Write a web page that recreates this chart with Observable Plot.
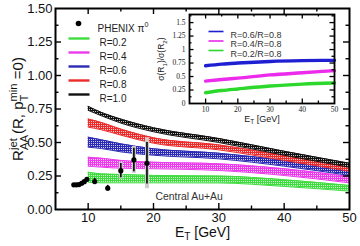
<!DOCTYPE html>
<html><head><meta charset="utf-8">
<script src="https://cdn.jsdelivr.net/npm/d3@7"></script>
<script src="https://cdn.jsdelivr.net/npm/@observablehq/plot@0.6"></script>
<style>
body{margin:0;background:#fff;}
#wrap{position:relative;width:360px;height:246px;overflow:hidden;}
#wrap svg{position:absolute;left:0;top:0;}
</style></head><body><div id="wrap"></div>
<script>
// ---------- data ----------
const etBand = [10, 12, 15, 20, 30, 40, 50];
const loR02 = [0.204, 0.199, 0.199, 0.199, 0.198, 0.172, 0.137];
const hiR02 = [0.278, 0.266, 0.261, 0.254, 0.250, 0.222, 0.179];
const loR04 = [0.323, 0.316, 0.308, 0.304, 0.291, 0.254, 0.199];
const hiR04 = [0.390, 0.383, 0.366, 0.353, 0.341, 0.304, 0.246];
const loR06 = [0.465, 0.455, 0.430, 0.405, 0.378, 0.323, 0.254];
const hiR06 = [0.540, 0.520, 0.490, 0.453, 0.420, 0.366, 0.296];
const loR08 = [0.615, 0.595, 0.555, 0.495, 0.445, 0.366, 0.285];
const hiR08 = [0.675, 0.650, 0.600, 0.535, 0.482, 0.403, 0.320];
const loR10 = [0.740, 0.700, 0.645, 0.580, 0.500, 0.405, 0.315];
const hiR10 = [0.770, 0.725, 0.675, 0.610, 0.530, 0.435, 0.345];
const seriesNames = ["R=0.2", "R=0.4", "R=0.6", "R=0.8", "R=1.0"];
const seriesColors = ["#3fdc3f", "#ec3aec", "#2b2bb5", "#ec2b2b", "#111111"];

const phenixET   = [7.8, 8.2, 8.6, 9.0, 9.4, 9.8, 11, 13, 15, 17, 19];
const phenixRAA  = [0.184, 0.184, 0.186, 0.196, 0.208, 0.225, 0.209, 0.159, 0.290, 0.370, 0.345];
const phenixStat = [0.008, 0.008, 0.008, 0.010, 0.010, 0.012, 0.024, 0.021, 0.053, 0.088, 0.155];
const phenixSyst = [0, 0, 0, 0, 0, 0, 0, 0, 0.062, 0.100, 0.190];

const insetET   = [10, 15, 20, 30, 40, 50];
const ratio06   = [0.700, 0.730, 0.750, 0.780, 0.795, 0.800];
const ratio04   = [0.415, 0.445, 0.470, 0.530, 0.570, 0.610];
const ratio02   = [0.200, 0.240, 0.270, 0.325, 0.360, 0.380];
const insetNames  = ["R=0.6/R=0.8", "R=0.4/R=0.8", "R=0.2/R=0.8"];
const insetColors = ["#1e1ed2", "#ec2aec", "#2bd82b"];

const mainYTicks = [0, 0.25, 0.5, 0.75, 1, 1.25, 1.5];
const mainXTicks = [10, 20, 30, 40, 50];
const insetYTicks = [0, 0.25, 0.5, 0.75, 1, 1.25, 1.5];
const insetXTicks = [10, 20, 30, 40, 50];

// ---------- tables ----------
const bandLo = [loR02, loR04, loR06, loR08, loR10];
const bandHi = [hiR02, hiR04, hiR06, hiR08, hiR10];
const bands = seriesNames.map((n, i) => etBand.map((x, j) => ({x, lo: bandLo[i][j], hi: bandHi[i][j]})));
const phenix = phenixET.map((x, i) => ({x, y: phenixRAA[i], stat: phenixStat[i], syst: phenixSyst[i]}));
const ratios = [ratio06, ratio04, ratio02].map(arr => insetET.map((x, j) => ({x, y: arr[j]})));

const sans = "'Liberation Sans', Arial, Helvetica, sans-serif";
const serif = "'Liberation Serif', 'Times New Roman', serif";

function inwardTicks(fw, fh, xMaj, xMin, yMaj, yMin, lenMaj, lenMin, sw) {
  const o = {stroke: "black", strokeWidth: sw};
  return [
    Plot.tickY(yMaj, {y: d => d, insetRight: fw - lenMaj, ...o}),
    Plot.tickY(yMin, {y: d => d, insetRight: fw - lenMin, ...o}),
    Plot.tickY(yMaj, {y: d => d, insetLeft: fw - lenMaj, ...o}),
    Plot.tickY(yMin, {y: d => d, insetLeft: fw - lenMin, ...o}),
    Plot.tickX(xMaj, {x: d => d, insetTop: fh - lenMaj, ...o}),
    Plot.tickX(xMin, {x: d => d, insetTop: fh - lenMin, ...o}),
    Plot.tickX(xMaj, {x: d => d, insetBottom: fh - lenMaj, ...o}),
    Plot.tickX(xMin, {x: d => d, insetBottom: fh - lenMin, ...o})
  ];
}

// ---------- main plot ----------
const W = 360, H = 246, mL = 55, mR = 11, mT = 8, mB = 37;
const fw = W - mL - mR, fh = H - mT - mB;
const marks = [];
bands.forEach((rows, i) => {
  marks.push(Plot.area(rows, {x1: "x", y1: "lo", y2: "hi", fill: `url(#pat${i})`, curve: "monotone-x"}));
  marks.push(Plot.line(rows, {x: "x", y: "lo", stroke: seriesColors[i], strokeWidth: 1, curve: "monotone-x"}));
  marks.push(Plot.line(rows, {x: "x", y: "hi", stroke: seriesColors[i], strokeWidth: 1, curve: "monotone-x"}));
});
marks.push(Plot.ruleX(phenix.filter(d => d.syst > 0), {x: "x", y1: d => d.y - d.syst, y2: d => d.y + d.syst, stroke: "#cdcdcd", strokeWidth: 4}));
marks.push(Plot.ruleX(phenix, {x: "x", y1: d => d.y - d.stat, y2: d => d.y + d.stat, stroke: "black", strokeWidth: 1.6}));
marks.push(Plot.dot(phenix, {x: "x", y: "y", r: 2.6, fill: "black"}));
marks.push(...inwardTicks(fw, fh, [10, 20, 30, 40], [15, 25, 35, 45], [0.25, 0.5, 0.75, 1, 1.25], [0.125, 0.375, 0.625, 0.875, 1.125, 1.375], 6, 3.5, 1.4));
marks.push(Plot.axisY(mainYTicks, {tickSize: 0, tickPadding: 3, tickFormat: d3.format(".2f"), fontSize: 13, label: null, fill: "#111"}));
marks.push(Plot.axisX(mainXTicks, {tickSize: 0, tickPadding: 3, fontSize: 13, label: null, fill: "#111"}));
marks.push(Plot.frame({stroke: "black", strokeWidth: 2}));
// legend
marks.push(Plot.dot([0], {frameAnchor: "top-left", dx: 23, dy: 15, r: 2.8, fill: "black"}));
marks.push(Plot.text(["PHENIXLEG"], {frameAnchor: "top-left", dx: 42, dy: 16, text: d => d, textAnchor: "start", fontSize: 10, fill: "#222"}));
seriesNames.forEach((name, i) => {
  const dy = 30 + 14 * i;
  marks.push(Plot.frame({fill: seriesColors[i], stroke: "none", insetLeft: 13, insetRight: fw - 34, insetTop: dy - 1.2, insetBottom: fh - dy - 1.2}));
  marks.push(Plot.text([name], {frameAnchor: "top-left", dx: 44, dy, text: d => d, textAnchor: "start", fontSize: 10, fill: "#222"}));
});
marks.push(Plot.text(["Central Au+Au"], {frameAnchor: "top-left", dx: 100, dy: 184, text: d => d, textAnchor: "start", fontSize: 10.4, fill: "#333"}));
marks.push(Plot.text(["YLABEL"], {frameAnchor: "left", textAnchor: "middle", dx: -37, rotate: -90, text: d => d, fontSize: 15, fill: "#111"}));
marks.push(Plot.text(["XLABEL"], {frameAnchor: "bottom", textAnchor: "middle", dy: 27, text: d => d, fontSize: 14, fill: "#111"}));

const svg = Plot.plot({
  width: W, height: H, marginLeft: mL, marginRight: mR, marginTop: mT, marginBottom: mB,
  x: {domain: [5, 50]}, y: {domain: [0, 1.5]},
  style: {fontFamily: sans, background: "white"},
  marks
});
const defs = d3.create("svg:defs");
seriesColors.forEach((c, i) => {
  const p = defs.append("pattern").attr("id", `pat${i}`).attr("patternUnits", "userSpaceOnUse").attr("width", 2).attr("height", 2);
  p.append("rect").attr("width", 2).attr("height", 2).attr("fill", c);
  p.append("rect").attr("x", 1).attr("y", 1).attr("width", 1).attr("height", 1).attr("fill", "white").attr("fill-opacity", 0.75);
});
svg.insertBefore(defs.node(), svg.firstChild);

// ---------- inset ----------
const iW = 195, iH = 130, imL = 39, imR = 11, imT = 8, imB = 33;
const ifw = iW - imL - imR, ifh = iH - imT - imB;
const im = [Plot.frame({fill: "white", stroke: "none"})];
ratios.forEach((rows, i) => im.push(Plot.line(rows, {x: "x", y: "y", stroke: insetColors[i], strokeWidth: 3.4, curve: "monotone-x"})));
im.push(...inwardTicks(ifw, ifh, [10, 20, 30, 40], [15, 25, 35, 45], [0.25, 0.5, 0.75, 1, 1.25, 1.5], [0.125, 0.375, 0.625, 0.875, 1.125, 1.375, 1.625], 4.5, 2.5, 1.3));
im.push(Plot.axisY(insetYTicks, {tickSize: 0, tickPadding: 4, tickFormat: d => String(d), fontSize: 7.5, fontFamily: serif, label: null, fill: "#222"}));
im.push(Plot.axisX(insetXTicks, {tickSize: 0, tickPadding: 3, fontSize: 7.5, fontFamily: serif, label: null, fill: "#222"}));
im.push(Plot.frame({stroke: "black", strokeWidth: 1.8}));
insetNames.forEach((name, i) => {
  const dy = 17 + 9.5 * i;
  im.push(Plot.frame({fill: insetColors[i], stroke: "none", insetLeft: 19, insetRight: ifw - 34, insetTop: dy - 0.8, insetBottom: ifh - dy - 0.8}));
  im.push(Plot.text([name], {frameAnchor: "top-left", dx: 41, dy, text: d => d, textAnchor: "start", fontSize: 9, fill: "#333"}));
});
im.push(Plot.text(["ISIGMA"], {frameAnchor: "left", textAnchor: "middle", dx: -28, rotate: -90, text: d => d, fontSize: 8.5, fill: "#222"}));
im.push(Plot.text(["IXLABEL"], {frameAnchor: "bottom", textAnchor: "middle", dy: 18, text: d => d, fontSize: 9, fill: "#222"}));
const inset = Plot.plot({
  width: iW, height: iH, marginLeft: imL, marginRight: imR, marginTop: imT, marginBottom: imB,
  x: {domain: [5, 50]}, y: {domain: [0, 1.65]},
  style: {fontFamily: sans, background: "transparent"},
  marks: im
});

const wrap = document.getElementById("wrap");
wrap.appendChild(svg);
wrap.appendChild(inset);
inset.style.left = "150px";
inset.style.top = "6px";

// ---------- rich text (sub/superscripts) ----------
function rich(root, placeholder, parts, fs, scale = 0.72, center = true) {
  const t = Array.from(root.querySelectorAll("text")).find(e => e.textContent === placeholder);
  if (!t) return;
  const sel = d3.select(t);
  sel.text(null);
  let shift = 0, lastSubLen = 0;
  for (const [s, mode] of parts) {
    const target = mode === "sub" ? 0.28 * fs : (mode === "sup" || mode === "stack") ? -0.42 * fs : 0;
    const ts = sel.append("tspan").text(s);
    if (target !== shift) ts.attr("dy", target - shift);
    if (mode) ts.attr("font-size", scale * fs);
    if (mode === "stack") ts.attr("dx", -lastSubLen);
    shift = target;
    if (mode === "sub") lastSubLen = ts.node().getComputedTextLength();
  }
  if (!center) return;
  // re-center the laid-out text on its anchor point
  const bb = t.getBBox();
  const cur = +t.getAttribute("x") || 0;
  t.setAttribute("x", 2 * cur - (bb.x + bb.width / 2));
}
rich(svg, "YLABEL", [["R", ""], ["AA", "sub"], ["jet", "stack"], [" (R, p", ""], ["T", "sub"], ["min", "stack"], [" =0)", ""]], 15, 0.75);
rich(svg, "XLABEL", [["E", ""], ["T", "sub"], [" [GeV]", ""]], 14);
rich(svg, "PHENIXLEG", [["PHENIX π", ""], ["0", "sup"]], 10, 0.72, false);
rich(inset, "ISIGMA", [["σ(R", ""], ["1", "sub"], [")/σ(R", ""], ["2", "sub"], [")", ""]], 8.5);
rich(inset, "IXLABEL", [["E", ""], ["T", "sub"], [" [GeV]", ""]], 9);
</script>
</body></html>
